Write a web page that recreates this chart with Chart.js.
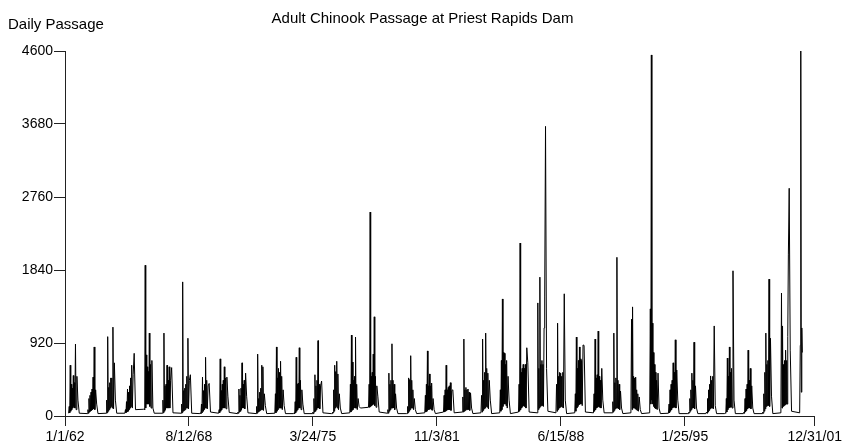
<!DOCTYPE html>
<html>
<head>
<meta charset="utf-8">
<title>Adult Chinook Passage at Priest Rapids Dam</title>
<script src="https://cdn.jsdelivr.net/npm/chart.js@4.4.1/dist/chart.umd.min.js"></script>
<style>
  body { margin: 0; background: #fff; }
  #wrap { position: relative; width: 845px; height: 447px; }
  .label {
    position: absolute;
    font-family: Arial, "Liberation Sans", sans-serif;
    font-size: 15px;
    color: #000;
    white-space: nowrap;
  }
  #title { left: 0; width: 845px; text-align: center; top: 9px; }
  #yname { left: 8px; top: 15px; }
</style>
</head>
<body>
<div id="wrap">
  <canvas id="passageChart" width="845" height="447"></canvas>
  <div class="label" id="title">Adult Chinook Passage at Priest Rapids Dam</div>
  <div class="label" id="yname">Daily Passage</div>
</div>
<script>
// one row per year, values at the same days of the year (run season)
var seasonYears = [
  1962, 1963, 1964, 1965, 1966, 1967, 1968, 1969, 1970, 1971,
  1972, 1973, 1974, 1975, 1976, 1977, 1978, 1979, 1980, 1981,
  1982, 1983, 1984, 1985, 1986, 1987, 1988, 1989, 1990, 1991,
  1992, 1993, 1994, 1995, 1996, 1997, 1998, 1999, 2000, 2001
];
var seasonDays = [70, 82, 92, 102, 112, 122, 132, 142, 152, 162, 172, 182, 192, 204, 216, 232, 252, 278];

var dailyPassage = [
  [35, 120, 40, 640, 60, 400, 80, 350, 100, 510, 120, 420, 100, 907, 80, 500, 200, 35],
  [30, 80, 35, 220, 50, 260, 60, 300, 70, 340, 80, 490, 90, 870, 80, 330, 150, 30],
  [35, 200, 40, 1000, 60, 360, 80, 420, 100, 480, 120, 480, 100, 1120, 90, 670, 200, 35],
  [35, 80, 40, 180, 50, 340, 60, 300, 80, 380, 100, 480, 120, 640, 100, 520, 790, 80],
  [85, 90, 80, 1900, 100, 770, 150, 620, 150, 560, 150, 1045, 120, 650, 100, 700, 100, 35],
  [35, 200, 40, 1045, 60, 380, 80, 400, 100, 640, 100, 450, 100, 620, 100, 450, 610, 40],
  [35, 150, 40, 1690, 60, 320, 70, 350, 80, 400, 100, 500, 100, 980, 90, 450, 520, 35],
  [30, 40, 30, 150, 40, 490, 60, 320, 80, 400, 100, 740, 100, 450, 90, 380, 410, 50],
  [35, 80, 40, 720, 60, 320, 80, 400, 100, 450, 100, 620, 100, 480, 90, 490, 250, 45],
  [30, 50, 35, 340, 50, 260, 60, 350, 80, 670, 100, 400, 100, 450, 90, 540, 250, 40],
  [30, 120, 35, 780, 50, 220, 60, 300, 70, 350, 80, 640, 80, 620, 70, 280, 130, 30],
  [35, 280, 40, 870, 60, 480, 80, 600, 100, 550, 100, 690, 100, 500, 80, 330, 130, 30],
  [30, 40, 30, 180, 40, 740, 60, 400, 80, 415, 100, 860, 100, 450, 80, 330, 150, 30],
  [30, 50, 30, 220, 50, 520, 60, 380, 80, 450, 100, 950, 100, 400, 90, 380, 440, 40],
  [30, 30, 30, 50, 40, 330, 60, 640, 100, 560, 120, 690, 100, 530, 80, 280, 100, 30],
  [40, 400, 50, 1020, 70, 680, 80, 450, 100, 500, 100, 995, 100, 400, 80, 220, 120, 100],
  [110, 400, 110, 2570, 120, 500, 130, 550, 140, 780, 150, 1250, 130, 500, 110, 380, 250, 50],
  [35, 80, 35, 540, 60, 400, 80, 450, 100, 910, 100, 450, 100, 400, 80, 280, 100, 30],
  [30, 30, 30, 120, 40, 480, 60, 460, 80, 760, 100, 450, 100, 330, 80, 220, 80, 30],
  [40, 260, 50, 400, 60, 820, 80, 380, 80, 530, 90, 380, 80, 415, 70, 220, 80, 30],
  [50, 260, 50, 330, 60, 640, 70, 330, 80, 360, 80, 380, 80, 420, 70, 320, 330, 40],
  [50, 240, 50, 970, 60, 330, 70, 360, 80, 330, 80, 340, 80, 300, 70, 290, 100, 30],
  [40, 260, 50, 970, 70, 450, 90, 550, 100, 1045, 120, 600, 110, 540, 90, 450, 200, 30],
  [40, 330, 60, 700, 80, 1475, 120, 800, 150, 790, 150, 650, 130, 700, 100, 500, 200, 30],
  [50, 400, 60, 2180, 80, 550, 100, 600, 120, 650, 130, 600, 120, 650, 100, 860, 670, 50],
  [40, 1425, 80, 600, 100, 1750, 120, 650, 130, 700, 130, 650, 120, 1110, 1500, 3650, 600, 60],
  [40, 400, 60, 1170, 80, 500, 100, 550, 110, 540, 120, 500, 110, 550, 100, 1540, 200, 30],
  [40, 280, 60, 995, 100, 600, 120, 700, 140, 870, 150, 720, 150, 700, 130, 895, 890, 50],
  [40, 280, 60, 970, 80, 480, 100, 520, 110, 1070, 120, 500, 110, 450, 100, 600, 200, 40],
  [40, 180, 50, 1045, 70, 420, 90, 480, 100, 2000, 100, 450, 90, 400, 80, 315, 100, 30],
  [40, 1220, 80, 1375, 100, 500, 100, 480, 90, 490, 80, 330, 70, 280, 60, 240, 80, 30],
  [40, 1350, 150, 4550, 200, 1170, 150, 800, 120, 650, 100, 550, 90, 450, 80, 540, 100, 30],
  [35, 150, 40, 330, 60, 400, 80, 450, 100, 670, 110, 550, 110, 960, 100, 580, 200, 30],
  [30, 30, 30, 50, 40, 220, 60, 330, 80, 540, 100, 450, 100, 930, 90, 380, 100, 30],
  [30, 50, 35, 220, 50, 330, 70, 400, 90, 505, 100, 450, 100, 500, 90, 1135, 130, 30],
  [30, 40, 35, 220, 50, 730, 80, 500, 100, 870, 110, 550, 110, 600, 100, 1830, 200, 30],
  [30, 50, 35, 220, 50, 340, 70, 400, 90, 830, 100, 450, 100, 600, 90, 380, 100, 30],
  [30, 50, 35, 280, 60, 550, 90, 1045, 120, 650, 130, 700, 130, 1725, 120, 980, 250, 30],
  [40, 1550, 100, 1135, 120, 650, 130, 700, 140, 830, 150, 700, 150, 1000, 2030, 2870, 830, 60],
  [40, 890, 4600, 300, 1110, 800]
];

var yTickValues = [0, 920, 1840, 2760, 3680, 4600];
var xTickDates = ["1962-01-01", "1968-08-12", "1975-03-24", "1981-11-03", "1988-06-15", "1995-01-25", "2001-12-31"];
var xTickLabels = ["1/1/62", "8/12/68", "3/24/75", "11/3/81", "6/15/88", "1/25/95", "12/31/01"];

// days counted from 1/1/62
function dayNumber(dateText) {
  return (Date.parse(dateText) - Date.parse("1962-01-01")) / 86400000;
}

var points = [];
seasonYears.forEach(function (year, row) {
  var yearStart = dayNumber(year + "-01-01");
  dailyPassage[row].forEach(function (value, i) {
    points.push({ x: yearStart + seasonDays[i], y: value });
  });
});

var axisFont = { family: "Arial, 'Liberation Sans', sans-serif", size: 14 };
var inkColor = "#000";
var axisColor = "#222";

var ctx = document.getElementById("passageChart").getContext("2d");
new Chart(ctx, {
  type: "line",
  data: {
    datasets: [
      {
        label: "Daily Passage",
        data: points,
        borderColor: inkColor,
        borderWidth: 1,
        pointRadius: 0,
        fill: false,
        tension: 0,
      },
    ],
  },
  options: {
    responsive: false,
    animation: false,
    parsing: false,
    layout: { padding: { top: 51, right: 28, bottom: 0, left: 0 } },
    plugins: {
      legend: { display: false },
      tooltip: { enabled: false },
      title: { display: false },
    },
    scales: {
      x: {
        type: "linear",
        min: 0,
        max: dayNumber("2001-12-31"),
        afterBuildTicks: function (scale) {
          scale.ticks = xTickDates.map(function (d) {
            return { value: dayNumber(d) };
          });
        },
        afterFit: function (scale) {
          scale.height = 31;
        },
        ticks: {
          callback: function (value, index) {
            return xTickLabels[index];
          },
          autoSkip: false,
          maxRotation: 0,
          font: axisFont,
          color: inkColor,
          padding: 3,
        },
        grid: { display: true, drawOnChartArea: false, tickLength: 10, color: axisColor },
        border: { display: true, color: axisColor, width: 1 },
      },
      y: {
        min: 0,
        max: 4600,
        afterBuildTicks: function (scale) {
          scale.ticks = yTickValues.map(function (v) {
            return { value: v };
          });
        },
        afterFit: function (scale) {
          scale.width = 65;
        },
        ticks: {
          callback: function (value) {
            return String(value);
          },
          font: axisFont,
          color: inkColor,
          padding: 1,
        },
        grid: { display: true, drawOnChartArea: false, tickLength: 11, color: axisColor },
        border: { display: true, color: axisColor, width: 1 },
      },
    },
  },
});
</script>
</body>
</html>
